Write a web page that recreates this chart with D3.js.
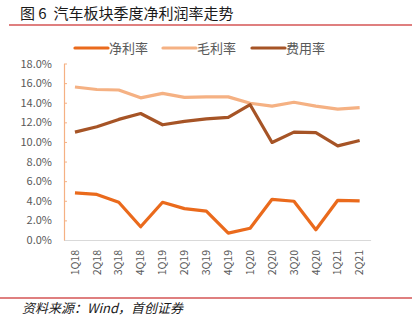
<!DOCTYPE html>
<html lang="zh">
<head>
<meta charset="utf-8">
<title>汽车板块季度净利润率走势</title>
<script src="https://cdn.jsdelivr.net/npm/d3@7"></script>
<style>
  body { margin: 0; background: #fff; }
  svg text { font-family: "Noto Sans CJK SC", "Noto Sans", sans-serif; }
</style>
</head>
<body>
<script>
// data
var quarters = ["1Q18","2Q18","3Q18","4Q18","1Q19","2Q19","3Q19","4Q19","1Q20","2Q20","3Q20","4Q20","1Q21","2Q21"];
var netMargin = [4.8, 4.65, 3.85, 1.35, 3.85, 3.2, 2.95, 0.7, 1.2, 4.15, 3.95, 1.05, 4.05, 4.0];
var grossMargin = [15.6, 15.35, 15.3, 14.5, 14.95, 14.55, 14.6, 14.6, 13.95, 13.65, 14.05, 13.65, 13.35, 13.5];
var expenseRate = [11.0, 11.55, 12.3, 12.9, 11.75, 12.1, 12.35, 12.5, 13.8, 9.95, 11.0, 10.95, 9.6, 10.15];
var seriesNames = ["净利率", "毛利率", "费用率"];
var seriesColors = ["#EA6A1C", "#F5B183", "#A65426"];
var yTicks = [0, 2, 4, 6, 8, 10, 12, 14, 16, 18];

var w = 412, h = 322;
var svg = d3.select("body").append("svg").attr("width", w).attr("height", h);

// title
svg.append("text")
   .attr("x", 20).attr("y", 19)
   .attr("font-size", "15px")
   .attr("fill", "#1a1a1a")
   .style("white-space", "pre")
   .text("图 6  汽车板块季度净利润率走势");
svg.append("line")
   .attr("x1", 9).attr("x2", w).attr("y1", 25).attr("y2", 25)
   .attr("stroke", "#C00000").attr("stroke-width", 1.2);

// scales
var xScale = d3.scaleBand().domain(quarters).range([64, 370.6]);
var yScale = d3.scaleLinear().domain([0, 18]).range([240, 63.5]);
var cx = function(i) { return xScale(quarters[i]) + xScale.bandwidth() / 2; };

// y axis
var yAxis = d3.axisLeft(yScale).tickValues(yTicks)
              .tickFormat(function(d) { return d.toFixed(1) + "%"; })
              .tickSizeInner(-3).tickSizeOuter(0).tickPadding(12);
var gy = svg.append("g").attr("transform", "translate(64,0)").call(yAxis);
gy.select(".domain").attr("stroke", "#F5B183").attr("stroke-width", 1.2);
gy.selectAll(".tick line").attr("stroke", "#F5B183");
gy.selectAll(".tick text").attr("fill", "#595959").attr("font-size", "11px")
  .attr("font-family", "'Liberation Sans', Arial, sans-serif");

// x axis
var xAxis = d3.axisBottom(xScale).tickSize(0).tickSizeOuter(0);
var gx = svg.append("g").attr("transform", "translate(0,240)").call(xAxis);
gx.select(".domain").attr("stroke", "#D9D9D9").attr("stroke-width", 1.2);
gx.selectAll(".tick text")
  .attr("fill", "#595959").attr("font-size", "10.5px")
  .attr("font-family", "'Liberation Sans', Arial, sans-serif")
  .attr("transform", "rotate(-90)")
  .attr("text-anchor", "end")
  .attr("x", -10).attr("y", 0).attr("dy", "0.35em");

// lines
var allSeries = [netMargin, grossMargin, expenseRate];
var line = d3.line()
             .x(function(d, i) { return cx(i); })
             .y(function(d) { return yScale(d); });
[1, 2, 0].forEach(function(k) {
  svg.append("path")
     .datum(allSeries[k])
     .attr("d", line)
     .attr("fill", "none")
     .attr("stroke", seriesColors[k])
     .attr("stroke-width", 3.2)
     .attr("stroke-linejoin", "round");
});

// legend
var legendX = [75, 163, 252];
seriesNames.forEach(function(name, k) {
  svg.append("line")
     .attr("x1", legendX[k]).attr("x2", legendX[k] + 33)
     .attr("y1", 48).attr("y2", 48)
     .attr("stroke", seriesColors[k]).attr("stroke-width", 3.2)
     .attr("stroke-linecap", "round");
  svg.append("text")
     .attr("x", legendX[k] + 34).attr("y", 53)
     .attr("font-size", "13px").attr("fill", "#595959")
     .text(name);
});

// footer
svg.append("line")
   .attr("x1", 0).attr("x2", w).attr("y1", 298).attr("y2", 298)
   .attr("stroke", "#C00000").attr("stroke-width", 1.2);
svg.append("text")
   .attr("x", 22).attr("y", 313)
   .attr("font-size", "13px")
   .attr("font-style", "italic")
   .attr("fill", "#1a1a1a")
   .attr("font-family", "'Noto Serif CJK SC', 'Liberation Serif', serif")
   .text("资料来源：Wind，首创证券");
</script>
</body>
</html>
